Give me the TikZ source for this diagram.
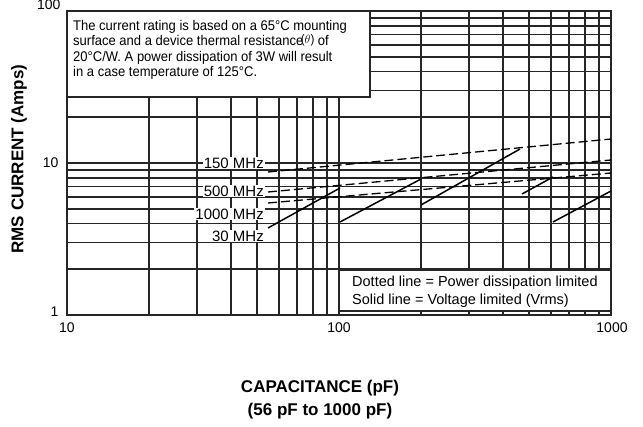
\documentclass[tikz,border=0pt]{standalone}
\usepackage{fontspec}
\setmainfont{Liberation Sans}
\newfontfamily\notefont[FakeStretch=0.93]{Liberation Sans}
\usetikzlibrary{arrows.meta}

\begin{document}
\begin{tikzpicture}[x=1pt,y=-1pt,
    declare function={cx(\c)=67+272*log10(\c/10); cy(\i)=315-152*log10(\i);},
    grid/.style={line width=1.9pt,black!85},
    axis/.style={line width=2.6pt,black!85},
    power/.style={line width=1.3pt,dash pattern=on 9pt off 4pt},
    volt/.style={line width=1.5pt},
    tag/.style={fill=white,inner sep=1pt,font=\fontsize{15}{15}\selectfont},
    tick/.style={font=\fontsize{14}{14}\selectfont},
    title/.style={font=\fontsize{17}{23}\selectfont\bfseries}]
\useasboundingbox (0,0) rectangle (643,427);

% log grid
\foreach \d in {10,100}
  \foreach \m in {2,...,9}
    \draw[grid] ({cx(\m*\d)},11) -- ({cx(\m*\d)},315);
\foreach \d in {1,10}
  \foreach \m in {2,...,9}
    \draw[grid] (67,{cy(\m*\d)}) -- (611,{cy(\m*\d)});
\draw[grid] ({cx(100)},11) -- ({cx(100)},315);
\draw[grid] (67,{cy(10)}) -- (611,{cy(10)});
\draw[axis] (67,11) rectangle (611,315);

\begin{scope}
    \node[tick,anchor=north] (x10) at (67,319) {10};
    \node[tick,anchor=north] (x100) at ({cx(100)},319) {100};
    \node[tick,anchor=north] (x1000) at (612,319) {1000};
    \node[tick,anchor=east] (y1) at (62,312) {1};
    \node[tick,anchor=east] (y10) at (62,163) {10};
    \node[tick,anchor=east] (y100) at (64,5) {100};
    \node[title,rotate=90] (ytitle) at (19,159) {RMS CURRENT (Amps)};
    \node[title,align=center] (xtitle) at (320,400) {CAPACITANCE (pF)\\(56 pF to 1000 pF)};
\end{scope}

% note boxes
\draw[axis,fill=white,line width=2pt] (67,11) rectangle (370,97);
\node[anchor=north west,align=left,inner sep=0pt,
      font=\notefont\fontsize{14}{15.5}\selectfont] (note) at (73,20)
  {The current rating is based on a 65\textdegree C mounting\\
   surface and a device thermal resistance\kern-2.5pt\raisebox{2pt}{\fontsize{12.5}{12.5}\selectfont($\theta$)} of\\
   20\textdegree C/W. A power dissipation of 3W will result\\
   in a case temperature of 125\textdegree C.};
\draw[axis,fill=white,line width=2pt] ({cx(100)},270) rectangle (611,311);
\node[anchor=north west,align=left,inner sep=0pt,
      font=\fontsize{14.5}{17.5}\selectfont] (key) at (352,276)
  {Dotted line = Power dissipation limited\\
   Solid line = Voltage limited (Vrms)};

% curves
\begin{scope}
    \coordinate (a0) at (268,172);
    \coordinate (a1) at (611,139);
    \coordinate (b0) at (268,192);
    \coordinate (b1) at (611,160);
    \coordinate (c0) at (268,203);
    \coordinate (c1) at (611,173);
    \coordinate (s0) at (268,228);
    \coordinate (s1) at (340,188);
    \coordinate (t0) at (340,222);
    \coordinate (t1) at (421,179);
    \coordinate (u0) at (421,205);
    \coordinate (u1) at (520,149);
    \coordinate (v0) at (522,194);
    \coordinate (v1) at (553,177);
    \coordinate (w0) at (553,222);
    \coordinate (w1) at (611,191);
\end{scope}

\begin{scope}
    \path [power] (a0) edge (a1);
    \path [power] (b0) edge (b1);
    \path [power] (c0) edge (c1);
    \path [volt] (s0) edge (s1);
    \path [volt] (t0) edge (t1);
    \path [volt] (u0) edge (u1);
    \path [volt] (v0) edge (v1);
    \path [volt] (w0) edge (w1);
\end{scope}

\node[tag,anchor=east] (f150) at (265,163) {150 MHz};
\node[tag,anchor=east] (f500) at (265,191) {500 MHz};
\node[tag,anchor=east] (f1000) at (265,214) {1000 MHz};
\node[tag,anchor=east] (f30) at (265,236) {30 MHz};
\end{tikzpicture}
\end{document}
